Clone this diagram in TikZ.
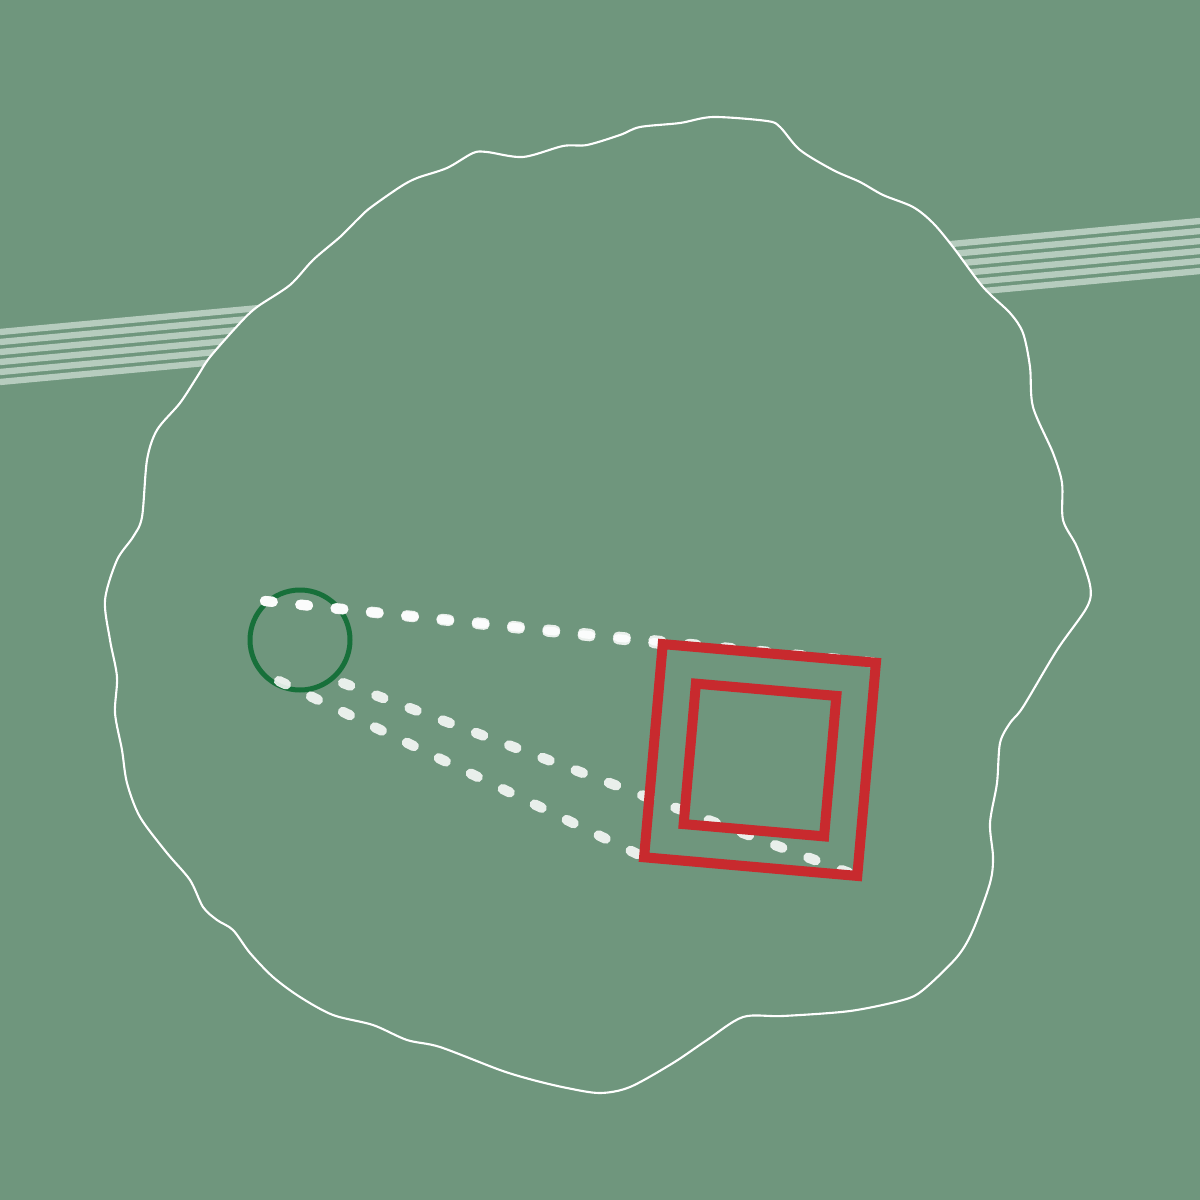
\documentclass[tikz,border=0pt]{standalone}

\definecolor{bggreen}{RGB}{111,150,125}
\definecolor{camgreen}{RGB}{23,112,58}
\definecolor{framered}{RGB}{200,42,46}
\definecolor{stripe}{RGB}{182,204,190}

\begin{document}
\begin{tikzpicture}[x=0.1mm, y=-0.1mm,
  ray/.style={white, opacity=0.85, line width=2.9pt, line cap=round, dash pattern=on 2.2pt off 7.9pt},
  frame/.style={draw=framered, line width=2.85pt}]

\def\camx{300};
\def\camy{640};
\def\camr{50};

\def\cx{760};
\def\cy{760};
\def\outer{107};
\def\inner{70.5};

\fill[bggreen] (0,0) rectangle (1200,1200);
\useasboundingbox (0,0) rectangle (1200,1200);

% track behind the blob
\foreach \i in {0,...,5}
  \draw[stripe, line width=1.8pt] (0,332+10*\i) -- (1200,221+10*\i);

% the blob
\filldraw[fill=bggreen, draw=white, line width=0.6pt] plot[smooth cycle, tension=0.5] coordinates {
  (680,123) (713,117) (767,121) (780,127) (800,150) (833,170) (860,182) (883,195)
  (913,207) (933,223) (953,247) (983,287) (1010,313) (1023,333) (1030,367) (1033,407)
  (1053,453) (1062,483) (1063,520) (1077,547) (1090,585) (1087,607) (1057,650) (1023,707)
  (1010,723) (1000,743) (997,783) (990,823) (993,857) (990,883) (973,930) (957,957)
  (923,990) (903,1000) (850,1011) (783,1016) (743,1017) (707,1040) (673,1063) (630,1087)
  (600,1093) (567,1088) (533,1080) (500,1070) (440,1047) (407,1040) (373,1025) (333,1015)
  (300,997) (273,977) (250,953) (233,930) (217,920) (203,907) (190,880) (167,853)
  (140,817) (127,783) (122,750) (115,713) (117,677) (110,640) (105,600) (117,560)
  (133,537) (142,517) (147,460) (157,430) (180,403) (197,377) (210,357) (240,323)
  (257,307) (290,285) (313,260) (340,237) (357,220) (370,208) (400,187) (417,178)
  (447,168) (473,153) (487,152) (523,157) (563,146) (587,145) (620,135) (640,127)};

% camera
\draw[camgreen, line width=1.42pt] (\camx,\camy) circle (\camr);

\coordinate (topray) at (265,601);
\coordinate (lowray) at (279,681);
\coordinate (sideray) at (343,683);

% frame corners
\begin{scope}[shift={(\cx,\cy)}, rotate=-5]
  \coordinate (tl) at (-\outer,-\outer);
  \coordinate (tr) at (\outer,-\outer);
  \coordinate (br) at (\outer,\outer);
  \coordinate (bl) at (-\outer,\outer);
  \coordinate (itl) at (-\inner,-\inner);
  \coordinate (itr) at (\inner,-\inner);
  \coordinate (ibr) at (\inner,\inner);
  \coordinate (ibl) at (-\inner,\inner);
\end{scope}

\draw[ray] (topray) -- (tl);
\draw[ray] (topray) -- (tr);
\draw[ray] (sideray) -- (br);
\draw[ray] (lowray) -- (bl);

\draw[frame] (tl) -- (tr) -- (br) -- (bl) -- cycle;
\draw[frame] (itl) -- (itr) -- (ibr) -- (ibl) -- cycle;

\end{tikzpicture}
\end{document}
